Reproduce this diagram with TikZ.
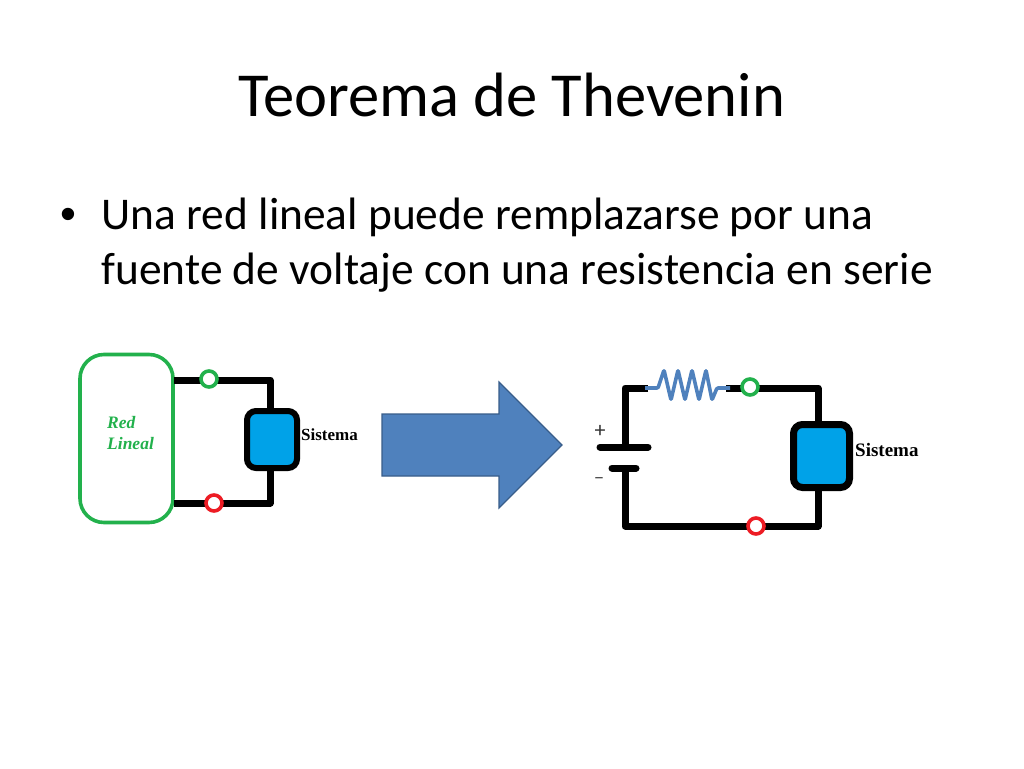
\documentclass[tikz,border=0pt]{standalone}
\usepackage{fontspec}
\setmainfont{Carlito}
\newfontfamily\serifb{Liberation Serif}
\newfontfamily\bulfont{Liberation Sans}
\definecolor{grn}{HTML}{22B14C}
\definecolor{rd}{HTML}{ED1C24}
\definecolor{sysblue}{HTML}{00A2E8}
\definecolor{arrowfill}{HTML}{4F81BD}
\definecolor{arrowline}{HTML}{385D8A}
\tikzset{
  wire/.style={line width=7pt,black,line join=round},
  terminal/.style={circle,draw=#1,fill=white,line width=3.6pt,minimum size=16pt,inner sep=0pt},
  sysbox/.style={rectangle,rounded corners=9pt,draw=black,fill=sysblue,inner sep=0pt},
  syslabel/.style={anchor=west,inner sep=0pt},
  plate/.style={line width=7pt,black,line cap=round},
  resist/.style={line width=3.6pt,arrowfill,line join=round,rounded corners=1pt},
  title/.style={anchor=base,inner sep=0pt,font=\fontsize{62.6pt}{70pt}\selectfont},
  body/.style={anchor=base west,inner sep=0pt,font=\fontsize{45.4pt}{55pt}\selectfont},
}
\begin{document}
\begin{tikzpicture}[x=1pt,y=-1pt]
\useasboundingbox[fill=white] (0,0) rectangle (1024,768);
\node[title] (t) at (511.5,116) {Teorema de Thevenin};
\node[inner sep=0pt,font=\bulfont\fontsize{45.4pt}{55pt}\selectfont] (bul) at (68,219) {•};
\node[body] (l1) at (101.5,229) {Una red lineal puede remplazarse por una};
\node[body] (l2) at (101.5,284) {fuente de voltaje con una resistencia en serie};

% left circuit
\node[rectangle,rounded corners=24pt,draw=grn,line width=3.6pt,minimum width=93pt,minimum height=168pt,inner sep=0pt] (net) at (126.5,438.5) {};
\node[anchor=west,inner sep=0pt,align=left,text=grn,font=\serifb\bfseries\itshape\fontsize{17.5pt}{21pt}\selectfont] (nl) at (107,433) {Red\\Lineal};
\node[sysbox,line width=6pt,minimum width=50pt,minimum height=57pt] (s1) at (272,439.5) {};
\node[syslabel,font=\serifb\bfseries\fontsize{17pt}{19pt}\selectfont] (s1l) at (301,435) {Sistema};
\coordinate (c1) at (270,380);
\coordinate (c2) at (270,503);
\coordinate (n1) at (174,380);
\coordinate (n2) at (174,503);
\draw[wire] (n1) -- (c1) -- (c1 |- s1.north);
\draw[wire] (n2) -- (c2) -- (c2 |- s1.south);
\node[terminal=grn] (g1) at (209,379) {};
\node[terminal=rd] (r1) at (214,503) {};

% arrow
\draw[fill=arrowfill,draw=arrowline,line width=1.2pt,line join=miter]
  (382,414) -- (499,414) -- (499,382) -- (562,445) -- (499,508) -- (499,476) -- (382,476) -- cycle;

% right circuit
\node[sysbox,line width=7pt,minimum width=56pt,minimum height=63pt] (s2) at (821.5,456) {};
\node[syslabel,font=\serifb\bfseries\fontsize{19pt}{21pt}\selectfont] (s2l) at (855,450) {Sistema};
\coordinate (tl) at (625,388);
\coordinate (tr) at (818,388);
\coordinate (bl) at (625,526);
\coordinate (br) at (818,526);
\coordinate (pa) at (625,447);
\coordinate (pb) at (625,468);
\coordinate (ra) at (648,388);
\coordinate (rb) at (726,388);
\draw[wire] (ra) -- (tl) -- (pa);
\draw[wire] (rb) -- (tr) -- (tr |- s2.north);
\draw[wire] (pb) -- (bl) -- (br) -- (br |- s2.south);
\draw[plate] (600,447) -- (648,447);
\draw[plate] (612,468) -- (636,468);
\draw[resist] (645,388) -- (658,388) -- (664,370) -- (671,400) -- (678,370) -- (685,400) -- (692,370) -- (699,400) -- (706,370) -- (712,400) -- (717,388) -- (730,388);
\node[terminal=grn] (g2) at (750,387) {};
\node[terminal=rd] (r2) at (756,526) {};
\node[inner sep=0pt,font=\fontsize{22pt}{24pt}\selectfont,text=black!80] (plus) at (600,431) {+};
\node[inner sep=0pt,font=\fontsize{20pt}{22pt}\selectfont,text=black!70] (minus) at (599,481) {−};
\end{tikzpicture}
\end{document}
